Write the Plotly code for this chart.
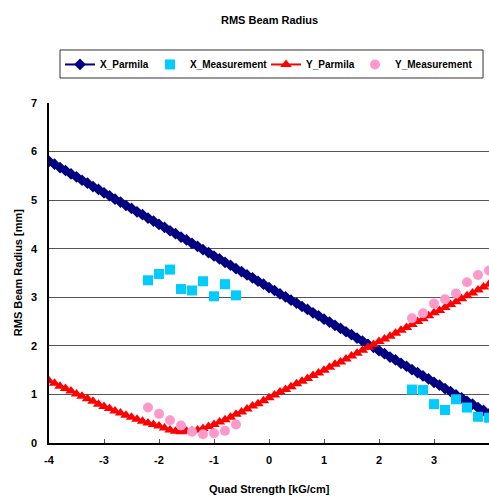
import plotly.graph_objects as go

# Quad strength grid used by the Parmila simulation (kG/cm)
k_parmila = [-4.0, -3.9, -3.8, -3.7, -3.6, -3.5, -3.4, -3.3, -3.2, -3.1,
             -3.0, -2.9, -2.8, -2.7, -2.6, -2.5, -2.4, -2.3, -2.2, -2.1,
             -2.0, -1.9, -1.8, -1.7, -1.6, -1.5, -1.4, -1.3, -1.2, -1.1,
             -1.0, -0.9, -0.8, -0.7, -0.6, -0.5, -0.4, -0.3, -0.2, -0.1,
             0.0, 0.1, 0.2, 0.3, 0.4, 0.5, 0.6, 0.7, 0.8, 0.9,
             1.0, 1.1, 1.2, 1.3, 1.4, 1.5, 1.6, 1.7, 1.8, 1.9,
             2.0, 2.1, 2.2, 2.3, 2.4, 2.5, 2.6, 2.7, 2.8, 2.9,
             3.0, 3.1, 3.2, 3.3, 3.4, 3.5, 3.6, 3.7, 3.8, 3.9, 4.0]

x_parmila = [5.80, 5.74, 5.67, 5.61, 5.54, 5.48, 5.41, 5.35, 5.28, 5.22,
             5.15, 5.09, 5.02, 4.96, 4.89, 4.83, 4.76, 4.70, 4.63, 4.57,
             4.50, 4.44, 4.37, 4.31, 4.24, 4.18, 4.11, 4.05, 3.98, 3.92,
             3.85, 3.79, 3.72, 3.66, 3.59, 3.53, 3.46, 3.40, 3.33, 3.27,
             3.20, 3.14, 3.07, 3.01, 2.94, 2.88, 2.81, 2.75, 2.68, 2.62,
             2.55, 2.49, 2.42, 2.36, 2.29, 2.23, 2.16, 2.10, 2.03, 1.97,
             1.90, 1.84, 1.77, 1.71, 1.64, 1.58, 1.51, 1.45, 1.38, 1.32,
             1.25, 1.19, 1.12, 1.06, 0.99, 0.93, 0.86, 0.80, 0.73, 0.67, 0.60]

y_parmila = [1.28, 1.23, 1.17, 1.12, 1.07, 1.01, 0.96, 0.91, 0.86, 0.80,
             0.75, 0.71, 0.66, 0.62, 0.57, 0.53, 0.49, 0.45, 0.41, 0.38,
             0.35, 0.31, 0.27, 0.24, 0.23, 0.24, 0.25, 0.27, 0.30, 0.34,
             0.38, 0.43, 0.48, 0.53, 0.59, 0.64, 0.70, 0.76, 0.81, 0.87,
             0.93, 0.99, 1.05, 1.10, 1.16, 1.22, 1.27, 1.33, 1.39, 1.44,
             1.50, 1.56, 1.62, 1.67, 1.73, 1.79, 1.85, 1.91, 1.97, 2.03,
             2.09, 2.14, 2.20, 2.26, 2.32, 2.38, 2.44, 2.50, 2.56, 2.62,
             2.68, 2.73, 2.79, 2.85, 2.91, 2.97, 3.03, 3.09, 3.15, 3.21, 3.27]

# Measurements
k_meas = [-2.2, -2.0, -1.8, -1.6, -1.4, -1.2, -1.0, -0.8, -0.6,
          2.6, 2.8, 3.0, 3.2, 3.4, 3.6, 3.8, 4.0]
x_meas = [3.35, 3.48, 3.57, 3.17, 3.14, 3.33, 3.02, 3.27, 3.04,
          1.10, 1.09, 0.80, 0.68, 0.90, 0.73, 0.54, 0.52]
y_meas = [0.73, 0.60, 0.47, 0.36, 0.23, 0.18, 0.20, 0.25, 0.38,
          2.57, 2.67, 2.87, 2.96, 3.08, 3.31, 3.46, 3.55]

x_ticks = [-4, -3, -2, -1, 0, 1, 2, 3, 4]
y_ticks = [0, 1, 2, 3, 4, 5, 6, 7]

FONT = "Liberation Sans"
LEG_FONT = dict(family=FONT, size=10, color="black", weight="bold")

fig = go.Figure()
fig.add_trace(go.Scatter(
    x=k_parmila, y=x_parmila, name="X_Parmila", mode="lines+markers",
    line=dict(color="#000080", width=2), legend="legend",
    marker=dict(symbol="diamond", size=9, color="#000080")))
fig.add_trace(go.Scatter(
    x=k_meas, y=x_meas, name="X_Measurement", mode="markers", legend="legend2",
    marker=dict(symbol="square", size=10, color="#00CCFF")))
fig.add_trace(go.Scatter(
    x=k_parmila, y=y_parmila, name="Y_Parmila", mode="lines+markers",
    line=dict(color="#FF0000", width=2), legend="legend3",
    marker=dict(symbol="triangle-up", size=10, color="#FF0000")))
fig.add_trace(go.Scatter(
    x=k_meas, y=y_meas, name="Y_Measurement", mode="markers", legend="legend4",
    marker=dict(symbol="circle", size=10, color="#FF99CC")))


def leg(xpos):
    return dict(orientation="h", x=xpos, y=1.156, xanchor="left", yanchor="top",
                borderwidth=0, bgcolor="rgba(0,0,0,0)", font=LEG_FONT)


fig.update_layout(
    width=489, height=496,
    margin=dict(l=49, r=0, t=103, b=53, autoexpand=False),
    paper_bgcolor="white", plot_bgcolor="white",
    font=dict(family=FONT, size=10, color="black", weight="bold"),
    showlegend=True,
    legend=leg(0.025), legend2=leg(0.2295), legend3=leg(0.4932), legend4=leg(0.6955),
    xaxis=dict(range=[-4, 4], tickvals=x_ticks, ticktext=[str(v) for v in x_ticks],
               showgrid=False, zeroline=False, showline=True, linecolor="black",
               linewidth=1.5, ticks="inside", ticklen=4, tickcolor="#555555",
               tickfont=dict(family=FONT, size=11, color="black", weight="bold"),
               ticklabelstandoff=6, automargin=False),
    yaxis=dict(range=[0, 7], tickvals=y_ticks, ticktext=[str(v) for v in y_ticks],
               showgrid=True, gridcolor="#555555", gridwidth=1,
               zeroline=False, showline=True, linecolor="black", linewidth=1.5,
               ticks="", tickfont=dict(family=FONT, size=11, color="black", weight="bold"),
               ticklabelstandoff=8, automargin=False),
    shapes=[dict(type="rect", xref="paper", yref="paper",
                 x0=0.025, x1=0.9864, y0=1.0735, y1=1.1559,
                 line=dict(color="#333333", width=1), fillcolor="rgba(0,0,0,0)",
                 layer="below")],
    annotations=[
        dict(text="RMS Beam Radius", xref="paper", yref="paper", x=0.5, y=1.244,
             xanchor="center", yanchor="middle", showarrow=False,
             font=dict(family=FONT, size=11, color="black", weight="bold")),
        dict(text="Quad Strength [kG/cm]", xref="paper", yref="paper", x=0.5, y=-0.135,
             xanchor="center", yanchor="middle", showarrow=False,
             font=dict(family=FONT, size=11, color="black", weight="bold")),
        dict(text="RMS Beam Radius [mm]", xref="paper", yref="paper", x=-0.07, y=0.5,
             xanchor="center", yanchor="middle", showarrow=False, textangle=-90,
             font=dict(family=FONT, size=11, color="black", weight="bold")),
    ],
)

fig.write_html("out.html", config={"displayModeBar": False},
               post_script="document.body.style.margin='0';document.body.style.overflow='hidden';")
